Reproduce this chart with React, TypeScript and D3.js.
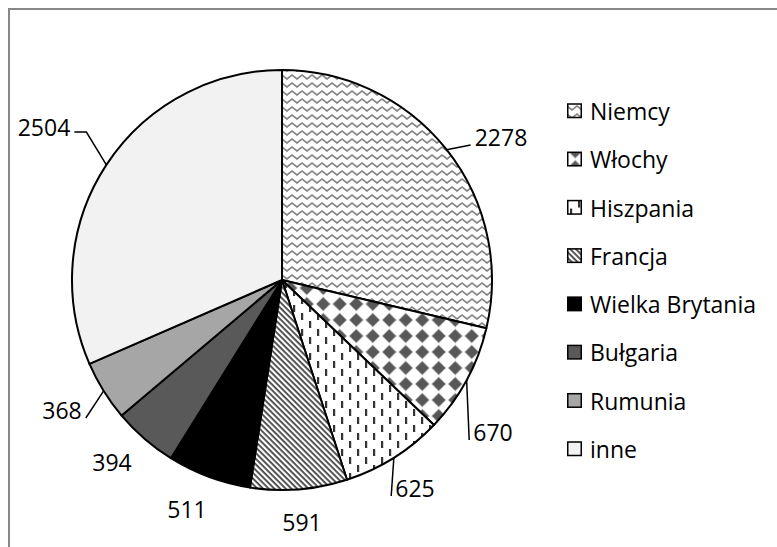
import React from 'react';
import * as d3 from 'd3';

const categories = ['Niemcy', 'Włochy', 'Hiszpania', 'Francja', 'Wielka Brytania', 'Bułgaria', 'Rumunia', 'inne'];
const values = [2278, 670, 625, 591, 511, 394, 368, 2504];
const fills = ['url(#pZig)', 'url(#pDiam)', 'url(#pDash)', 'url(#pDiag)', '#000000', '#595959', '#a6a6a6', '#f2f2f2'];
// label layout (offset of text centre from pie centre) and leader flags
const labelOffsets: [number, number][] = [[219, -143], [211, 152], [133, 208], [20, 242], [-95, 229], [-170, 182], [-220, 130], [-238, -153]];
const leaderFlags = [true, true, true, false, false, false, true, true];

const W = 777, H = 547;
const cx = 282, cy = 280, R = 210;
const FONT = '"Open Sans", Carlito, Calibri, sans-serif';
const FS = 23;

export default function App() {
  const pie = d3.pie<number>().sort(null).value(d => d).startAngle(0).endAngle(2 * Math.PI);
  const arcs = pie(values);
  const arc = d3.arc<d3.PieArcDatum<number>>().innerRadius(0).outerRadius(R);
  const legendY = d3.scaleLinear().domain([0, categories.length - 1]).range([111, 449]);

  return (
    <svg width={W} height={H} style={{ position: 'absolute', left: 0, top: 0, background: '#fff' }}>
      <defs>
        <pattern id="pZig" patternUnits="userSpaceOnUse" width={10} height={8}>
          <rect width={10} height={8} fill="#fff" />
          <path d="M-2.5,6 L0,3 L5,7 L10,3 L12.5,6" fill="none" stroke="#858585" strokeWidth={1.7} />
        </pattern>
        <pattern id="pDiam" patternUnits="userSpaceOnUse" width={16.5} height={16}>
          <rect width={16.5} height={16} fill="#fff" />
          <path d="M8.25,1.2 L15,8 L8.25,14.8 L1.5,8 Z" fill="#585858" stroke="#7a7a7a" strokeWidth={0.6} strokeLinejoin="round" />
        </pattern>
        <pattern id="pDash" patternUnits="userSpaceOnUse" width={16} height={16}>
          <rect width={16} height={16} fill="#fff" />
          <rect x={3} y={1} width={2.2} height={7} fill="#333" />
          <rect x={11} y={9} width={2.2} height={7} fill="#333" />
        </pattern>
        <pattern id="pDiag" patternUnits="userSpaceOnUse" width={4} height={4} patternTransform="rotate(45)">
          <rect width={4} height={4} fill="#fff" />
          <rect x={0} y={0} width={4} height={1.8} fill="#444" />
        </pattern>
      </defs>
      <rect x={9} y={9} width={W + 20} height={H + 20} fill="#fff" stroke="#878787" strokeWidth={2} />
      <g transform={`translate(${cx},${cy})`}>
        {arcs.map((a, i) => (
          <path key={i} d={arc(a) || ''} fill={fills[i]} stroke="#000" strokeWidth={2} strokeLinejoin="round" />
        ))}
        {arcs.map((a, i) => {
          const mid = (a.startAngle + a.endAngle) / 2;
          const ax = R * Math.sin(mid), ay = -R * Math.cos(mid);
          const [tx, ty] = labelOffsets[i];
          const txt = String(values[i]);
          const hw = txt.length * 6.6;
          let leader = null;
          if (leaderFlags[i]) {
            const right = tx > 0;
            const ex = right ? tx - hw - 4 : tx + hw + 4;
            const ey = ty + 5;
            let d: string;
            if (Math.abs(ex - ax) < 25) {
              d = `M${ax},${ay} L${ex},${ey + 3}`;
            } else {
              const bx = right ? ex - 12 : ex + 12;
              d = `M${ax},${ay} L${bx},${ey} L${ex},${ey}`;
            }
            leader = <path d={d} fill="none" stroke="#000" strokeWidth={1.5} />;
          }
          return (
            <g key={'l' + i}>
              {leader}
              <text x={tx} y={ty} textAnchor="middle" dominantBaseline="central" fontFamily={FONT} fontSize={FS} fill="#000">{txt}</text>
            </g>
          );
        })}
      </g>
      <g>
        {categories.map((c, i) => (
          <g key={c} transform={`translate(567,${legendY(i)})`}>
            <rect x={0.75} y={-7} width={13.5} height={13.5} fill={fills[i]} stroke="#000" strokeWidth={1.5} />
            <text x={23} y={0} dominantBaseline="central" fontFamily={FONT} fontSize={FS} fill="#000">{c}</text>
          </g>
        ))}
      </g>
    </svg>
  );
}
